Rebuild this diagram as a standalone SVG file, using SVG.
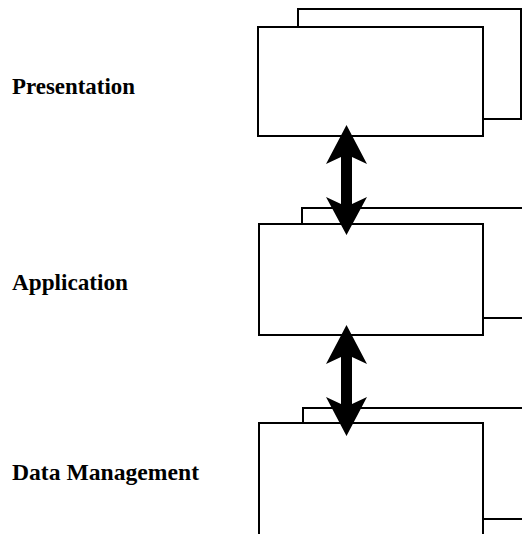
<svg xmlns="http://www.w3.org/2000/svg" width="522" height="534" viewBox="0 0 522 534">
<style>
.box{fill:#fff;stroke:#000;stroke-width:2}
.lbl{font-family:"Liberation Serif","Times New Roman",serif;font-size:23px;font-weight:bold;fill:#000}
.arr{fill:#000;stroke:none}
</style>
<rect width="522" height="534" fill="#fff"/>
<g id="presentation">
<rect class="box" x="298" y="9" width="223" height="110"/>
<rect class="box" x="258" y="27" width="225" height="109"/>
<text class="lbl" x="12" y="94" textLength="123" lengthAdjust="spacingAndGlyphs">Presentation</text>
</g>
<g id="application">
<rect class="box" x="302" y="208" width="230" height="110"/>
<rect class="box" x="259" y="224" width="224" height="111"/>
<text class="lbl" x="12" y="290" textLength="116" lengthAdjust="spacingAndGlyphs">Application</text>
</g>
<g id="data-management">
<rect class="box" x="303" y="408" width="230" height="111"/>
<rect class="box" x="259" y="423" width="224" height="120"/>
<text class="lbl" x="12" y="480" textLength="187" lengthAdjust="spacingAndGlyphs">Data Management</text>
</g>
<g id="connectors">
<polygon class="arr" points="346.5,125 367,164 352,157 352,204 367,197 346.5,235 326,197 341,204 341,157 326,164"/>
<polygon class="arr" points="346.5,325 367,364 352,357 352,404 367,397 346.5,436 326,397 341,404 341,357 326,364"/>
</g>
</svg>
